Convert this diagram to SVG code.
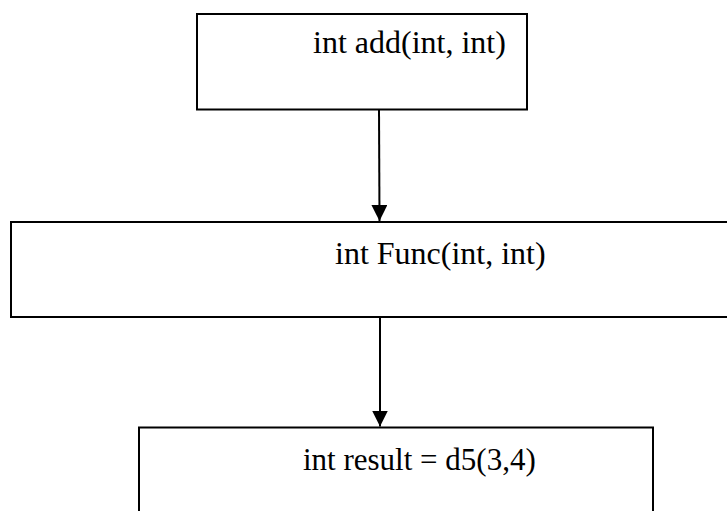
<svg xmlns="http://www.w3.org/2000/svg" width="727" height="511" viewBox="0 0 727 511">
  <style>
    .box { fill: #ffffff; stroke: #000000; stroke-width: 2; }
    .label { font-family: "Liberation Serif", "Times New Roman", serif; font-size: 32px; fill: #000000; }
    .edge { stroke: #000000; stroke-width: 2; fill: none; }
  </style>
  <defs>
    <marker id="arrow" markerUnits="userSpaceOnUse" markerWidth="16" markerHeight="16" refX="16" refY="8" orient="auto">
      <path d="M0,0 L16,8 L0,16 Z" fill="#000000"/>
    </marker>
  </defs>
  <rect width="727" height="511" fill="#ffffff"/>

  <g id="node-add">
    <rect class="box" x="197" y="14" width="330" height="95.5"/>
    <text class="label" x="313" y="53">int add(int, int)</text>
  </g>

  <g id="node-func">
    <rect class="box" x="11" y="222" width="740" height="95"/>
    <text class="label" x="335" y="264">int Func(int, int)</text>
  </g>

  <g id="node-result">
    <rect class="box" x="139" y="427.5" width="514" height="120"/>
    <text class="label" x="303" y="470" style="font-size:31px">int result = d5(3,4)</text>
  </g>

  <g id="connectors">
    <line class="edge" x1="379" y1="110" x2="379.5" y2="221" marker-end="url(#arrow)"/>
    <line class="edge" x1="380" y1="318" x2="380" y2="426.5" marker-end="url(#arrow)"/>
  </g>
</svg>
